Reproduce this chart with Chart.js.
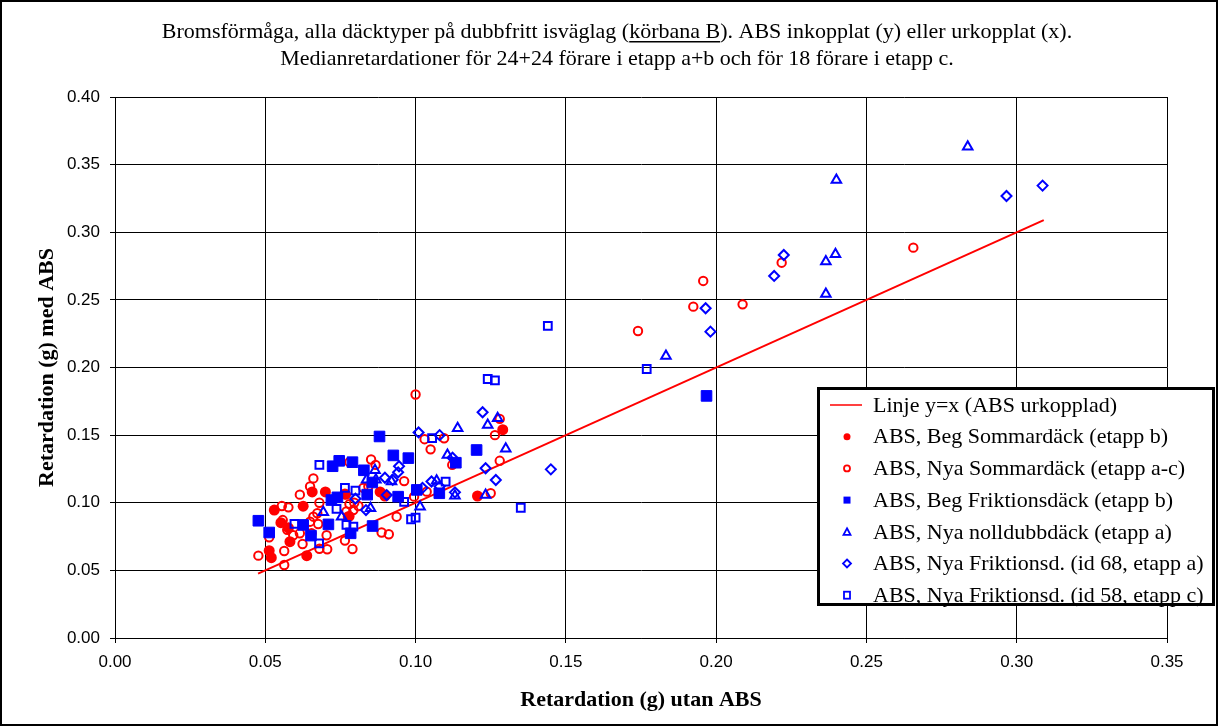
<!DOCTYPE html>
<html>
<head>
<meta charset="utf-8">
<script src="https://cdn.jsdelivr.net/npm/chart.js@4/dist/chart.umd.min.js"></script>
<style>
  html, body { margin: 0; padding: 0; background: #fff; }
  #wrap { width: 1218px; height: 726px; }
</style>
</head>
<body>
<div id="wrap"><canvas id="brakeChart" width="1218" height="726"></canvas></div>
<script>
// Retardation utan ABS (x) mot med ABS (y), medianer per förare
const xTicks = [0, 0.05, 0.10, 0.15, 0.20, 0.25, 0.30, 0.35];
const yTicks = [0, 0.05, 0.10, 0.15, 0.20, 0.25, 0.30, 0.35, 0.40];

const lineXY = [[0.0476, 0.0476], [0.309, 0.309]];

const begSommar = [
  [0.129, 0.154], [0.1206, 0.105], [0.0656, 0.108], [0.070, 0.108], [0.0882, 0.108],
  [0.0898, 0.105], [0.053, 0.0946], [0.0626, 0.0975], [0.0776, 0.0897], [0.0552, 0.0853],
  [0.0577, 0.0815], [0.0582, 0.0712], [0.0513, 0.0646], [0.052, 0.0594], [0.0638, 0.0609],
  [0.0765, 0.1065]
];

const nyaSommar = [
  [0.100, 0.180], [0.078, 0.130], [0.0852, 0.132], [0.0867, 0.128], [0.066, 0.118],
  [0.0649, 0.112], [0.0615, 0.106], [0.068, 0.100], [0.0962, 0.116], [0.0826, 0.111],
  [0.0843, 0.112], [0.0898, 0.106], [0.0995, 0.1045], [0.0768, 0.106], [0.078, 0.099],
  [0.0796, 0.100], [0.081, 0.0976], [0.0555, 0.0976], [0.0577, 0.0966], [0.0673, 0.0922],
  [0.066, 0.0897], [0.0649, 0.086], [0.0676, 0.0843], [0.077, 0.0935], [0.078, 0.090],
  [0.0793, 0.0946], [0.0558, 0.0872], [0.0513, 0.0744], [0.0593, 0.076], [0.0615, 0.0774],
  [0.0624, 0.0695], [0.0654, 0.0774], [0.0704, 0.076], [0.068, 0.066], [0.0706, 0.0656],
  [0.0765, 0.072], [0.079, 0.0658], [0.0887, 0.078], [0.0911, 0.0767], [0.0937, 0.0897],
  [0.0477, 0.0609], [0.0563, 0.0643], [0.0563, 0.054], [0.0573, 0.080], [0.103, 0.147],
  [0.1095, 0.1477], [0.1264, 0.150], [0.105, 0.1395], [0.1122, 0.128], [0.128, 0.131],
  [0.1037, 0.1082], [0.125, 0.107], [0.128, 0.162], [0.1957, 0.264], [0.1924, 0.245],
  [0.2088, 0.2467], [0.174, 0.227], [0.2218, 0.2775], [0.2656, 0.2886]
];

const begFriktion = [
  [0.088, 0.149], [0.0724, 0.127], [0.0746, 0.131], [0.079, 0.130], [0.0828, 0.124],
  [0.0926, 0.135], [0.0976, 0.133], [0.0856, 0.115], [0.0839, 0.106], [0.0942, 0.1045],
  [0.1004, 0.1095], [0.072, 0.102], [0.074, 0.104], [0.071, 0.084], [0.0626, 0.0836],
  [0.0477, 0.0867], [0.0513, 0.078], [0.0652, 0.0757], [0.0784, 0.0774], [0.0857, 0.0828],
  [0.1203, 0.139], [0.1134, 0.1296], [0.1079, 0.107], [0.1968, 0.179]
];

const nollDubb = [
  [0.0865, 0.124], [0.0837, 0.117], [0.0868, 0.117], [0.092, 0.1157], [0.085, 0.096],
  [0.0693, 0.093], [0.0754, 0.0897], [0.1273, 0.1624], [0.124, 0.1575], [0.114, 0.155],
  [0.130, 0.140], [0.1106, 0.1353], [0.107, 0.1163], [0.1131, 0.1052], [0.1233, 0.1057],
  [0.1015, 0.097], [0.240, 0.3386], [0.2397, 0.2837], [0.2365, 0.2783], [0.2365, 0.2543],
  [0.1833, 0.2085], [0.2837, 0.3633]
];

const friktion68 = [
  [0.101, 0.152], [0.0945, 0.127], [0.0942, 0.1225], [0.0898, 0.1185], [0.0924, 0.117],
  [0.0904, 0.1057], [0.080, 0.103], [0.0835, 0.0946], [0.1223, 0.1669], [0.108, 0.150],
  [0.1123, 0.1333], [0.1233, 0.1255], [0.145, 0.1247], [0.1267, 0.1168], [0.1053, 0.1157],
  [0.1023, 0.111], [0.108, 0.112], [0.1131, 0.1077], [0.2225, 0.2832], [0.2193, 0.2677],
  [0.1965, 0.2438], [0.1981, 0.2265], [0.2966, 0.3268], [0.3086, 0.3345]
];

const friktion58 = [
  [0.068, 0.128], [0.0765, 0.111], [0.080, 0.109], [0.0962, 0.1006], [0.0737, 0.0954],
  [0.077, 0.0836], [0.0793, 0.0823], [0.0597, 0.0843], [0.0679, 0.070], [0.0985, 0.0878],
  [0.100, 0.089], [0.124, 0.1915], [0.1264, 0.1905], [0.1055, 0.1477], [0.110, 0.1157],
  [0.135, 0.0963], [0.1769, 0.1989], [0.144, 0.2307]
];

const legendLabels = [
  'Linje y=x (ABS urkopplad)',
  'ABS, Beg Sommardäck (etapp b)',
  'ABS, Nya Sommardäck (etapp a-c)',
  'ABS, Beg Friktionsdäck (etapp b)',
  'ABS, Nya nolldubbdäck (etapp a)',
  'ABS, Nya Friktionsd. (id 68, etapp a)',
  'ABS, Nya Friktionsd. (id 58, etapp c)'
];

const RED = '#ff0000';
const BLUE = '#0000ff';
const toXY = (arr) => arr.map(([x, y]) => ({ x, y }));

// legend box, title and axis titles are painted by hand
const decorations = {
  id: 'decorations',
  afterDraw(chart) {
    const ctx = chart.ctx;
    const area = chart.chartArea;
    ctx.save();

    // frame round the whole picture
    ctx.strokeStyle = '#000';
    ctx.lineWidth = 2;
    ctx.strokeRect(1, 1, chart.width - 2, chart.height - 2);

    // title, with "körbana B" underlined
    ctx.fillStyle = '#000';
    ctx.font = '22px "Liberation Serif"';
    ctx.textBaseline = 'alphabetic';
    ctx.textAlign = 'left';
    const parts = ['Bromsförmåga, alla däcktyper på dubbfritt isväglag (', 'körbana B', '). ABS inkopplat (y) eller urkopplat (x).'];
    const widths = parts.map((p) => ctx.measureText(p).width);
    const total = widths.reduce((a, b) => a + b, 0);
    let tx = 617 - total / 2;
    const ty = 38;
    parts.forEach((p, i) => {
      ctx.fillText(p, tx, ty);
      if (i === 1) {
        ctx.fillRect(tx, ty + 3, widths[i], 1.5);
      }
      tx += widths[i];
    });
    ctx.textAlign = 'center';
    ctx.fillText('Medianretardationer för 24+24 förare i etapp a+b och för 18 förare i etapp c.', 617, 65);

    // axis titles
    ctx.font = 'bold 22px "Liberation Serif"';
    ctx.textBaseline = 'middle';
    ctx.fillText('Retardation (g) utan ABS', (area.left + area.right) / 2, 700);
    ctx.save();
    ctx.translate(47, (area.top + area.bottom) / 2);
    ctx.rotate(-Math.PI / 2);
    ctx.fillText('Retardation (g) med ABS', 0, 0);
    ctx.restore();

    // legend box
    const bx = 817, by = 387, bw = 398, bh = 219;
    ctx.fillStyle = '#fff';
    ctx.fillRect(bx, by, bw, bh);
    ctx.strokeStyle = '#000';
    ctx.lineWidth = 3;
    ctx.strokeRect(bx + 1.5, by + 1.5, bw - 3, bh - 3);

    const symX = 847;
    const rowY = (i) => 405 + i * 31.7;
    ctx.lineWidth = 1.5;

    // y=x line sample
    ctx.strokeStyle = RED;
    ctx.beginPath();
    ctx.moveTo(830, rowY(0));
    ctx.lineTo(862, rowY(0));
    ctx.stroke();

    // filled circle
    ctx.fillStyle = RED;
    ctx.beginPath();
    ctx.arc(symX, rowY(1), 3.5, 0, Math.PI * 2);
    ctx.fill();

    // open circle
    ctx.strokeStyle = RED;
    ctx.lineWidth = 1.8;
    ctx.beginPath();
    ctx.arc(symX, rowY(2), 3, 0, Math.PI * 2);
    ctx.stroke();

    // filled square
    ctx.fillStyle = BLUE;
    ctx.fillRect(symX - 3.5, rowY(3) - 3.5, 7, 7);

    // open triangle
    ctx.strokeStyle = BLUE;
    ctx.beginPath();
    ctx.moveTo(symX, rowY(4) - 3.5);
    ctx.lineTo(symX + 3.5, rowY(4) + 3);
    ctx.lineTo(symX - 3.5, rowY(4) + 3);
    ctx.closePath();
    ctx.stroke();

    // open diamond
    ctx.beginPath();
    ctx.moveTo(symX, rowY(5) - 4);
    ctx.lineTo(symX + 4, rowY(5));
    ctx.lineTo(symX, rowY(5) + 4);
    ctx.lineTo(symX - 4, rowY(5));
    ctx.closePath();
    ctx.stroke();

    // open square
    ctx.strokeRect(symX - 3, rowY(6) - 3.5, 6, 7);

    ctx.fillStyle = '#000';
    ctx.font = '22px "Liberation Serif"';
    ctx.textAlign = 'left';
    ctx.textBaseline = 'middle';
    legendLabels.forEach((label, i) => ctx.fillText(label, 873, rowY(i) + 1));

    ctx.restore();
  }
};

const tickFont = { family: '"Liberation Sans", Arial, sans-serif', size: 17 };

new Chart(document.getElementById('brakeChart'), {
  type: 'scatter',
  data: {
    datasets: [
      {
        type: 'line',
        label: legendLabels[0],
        data: toXY(lineXY),
        borderColor: RED,
        borderWidth: 2,
        pointRadius: 0,
        fill: false,
        order: 10
      },
      {
        label: legendLabels[1],
        data: toXY(begSommar),
        pointStyle: 'circle',
        pointRadius: 5.5,
        backgroundColor: RED,
        borderColor: RED,
        borderWidth: 0,
        order: 6
      },
      {
        label: legendLabels[2],
        data: toXY(nyaSommar),
        pointStyle: 'circle',
        pointRadius: 4.2,
        backgroundColor: 'rgba(0,0,0,0)',
        borderColor: RED,
        borderWidth: 2,
        order: 5
      },
      {
        label: legendLabels[3],
        data: toXY(begFriktion),
        pointStyle: 'rect',
        pointRadius: 7.5,
        backgroundColor: BLUE,
        borderColor: BLUE,
        borderWidth: 1,
        order: 4
      },
      {
        label: legendLabels[4],
        data: toXY(nollDubb),
        pointStyle: 'triangle',
        pointRadius: 5.5,
        backgroundColor: 'rgba(0,0,0,0)',
        borderColor: BLUE,
        borderWidth: 2,
        order: 3
      },
      {
        label: legendLabels[5],
        data: toXY(friktion68),
        pointStyle: 'rectRot',
        pointRadius: 5,
        backgroundColor: 'rgba(0,0,0,0)',
        borderColor: BLUE,
        borderWidth: 2,
        order: 2
      },
      {
        label: legendLabels[6],
        data: toXY(friktion58),
        pointStyle: 'rect',
        pointRadius: 5.5,
        backgroundColor: 'rgba(0,0,0,0)',
        borderColor: BLUE,
        borderWidth: 2,
        order: 1
      }
    ]
  },
  options: {
    responsive: false,
    animation: false,
    layout: { padding: { top: 97, right: 51, left: 0, bottom: 0 } },
    plugins: {
      legend: { display: false },
      tooltip: { enabled: false },
      title: { display: false }
    },
    scales: {
      x: {
        type: 'linear',
        min: 0,
        max: 0.35,
        afterBuildTicks: (s) => { s.ticks = xTicks.map((v) => ({ value: v })); },
        afterFit: (s) => { s.height = 88; },
        ticks: {
          color: '#000',
          font: tickFont,
          padding: 9,
          maxRotation: 0,
          callback: (v) => Number(v).toFixed(2)
        },
        grid: { color: '#000', lineWidth: 1, tickLength: 5, tickColor: '#000' },
        border: { color: '#000', width: 1 }
      },
      y: {
        type: 'linear',
        min: 0,
        max: 0.40,
        afterBuildTicks: (s) => { s.ticks = yTicks.map((v) => ({ value: v })); },
        afterFit: (s) => { s.width = 115; },
        ticks: {
          color: '#000',
          font: tickFont,
          padding: 10,
          callback: (v) => Number(v).toFixed(2)
        },
        grid: { color: '#000', lineWidth: 1, tickLength: 5, tickColor: '#000' },
        border: { color: '#000', width: 1 }
      }
    }
  },
  plugins: [decorations]
});
</script>
</body>
</html>
